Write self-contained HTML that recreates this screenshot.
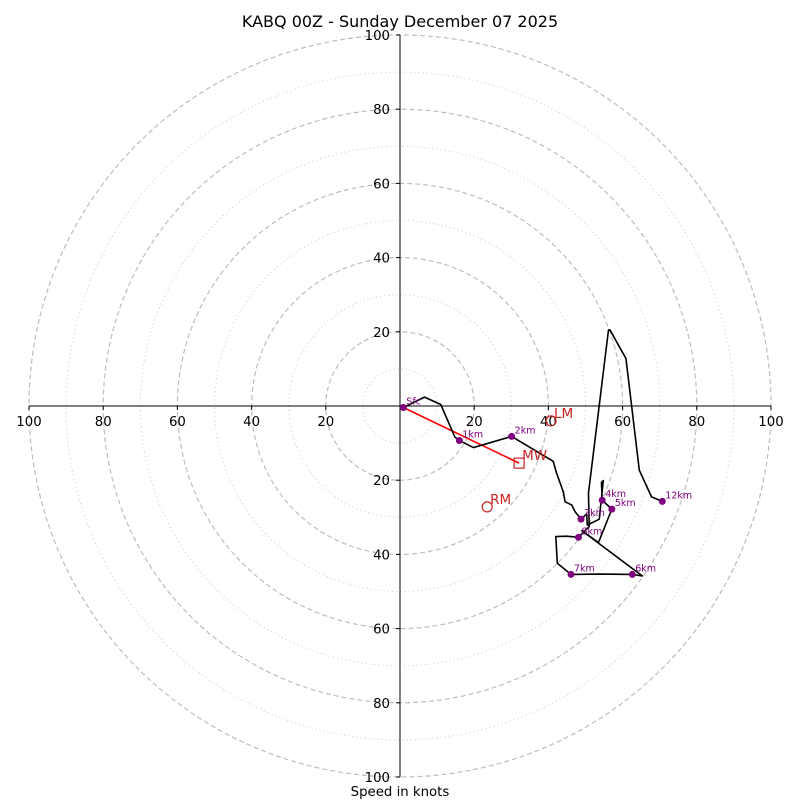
<!DOCTYPE html>
<html><head><meta charset="utf-8"><style>
body{margin:0;background:#fff;}
svg{display:block;font-family:"DejaVu Sans","Liberation Sans",sans-serif;}
</style></head><body>
<svg id="chart" width="800" height="800" viewBox="0 0 800 800">
<text x="400" y="27" font-size="16" text-anchor="middle">KABQ 00Z - Sunday December 07 2025</text>
<text x="400" y="796" font-size="13.3" text-anchor="middle">Speed in knots</text>
<g id="grid"></g><g id="axes"></g><g id="marks"></g>
</svg>
<script>
const ringValues=[10,20,30,40,50,60,70,80,90,100];
const tickValues=[20,40,60,80,100];
const pathU=[0.9,6.6,11.0,14.8,16.0,19.8,30.1,41.3,42.2,44.0,44.5,46.3,47.2,48.8,50.3,50.5,53.7,54.8,54.3,54.5,57.1,53.5,49.0,65.3,62.6,54.1,46.1,42.4,42.0,44.9,48.1,51.0,50.8,56.2,56.6,60.9,64.5,67.8,70.7];
const pathV=[-0.4,2.4,0.4,-8.4,-9.3,-11.2,-8.2,-14.9,-18.1,-23.1,-25.8,-26.7,-28.5,-30.5,-29.1,-32.1,-30.5,-20.1,-20.6,-25.4,-27.8,-36.8,-33.6,-45.8,-45.4,-45.3,-45.4,-42.4,-35.2,-35.1,-35.4,-32.5,-23.5,20.5,20.5,12.8,-17.3,-24.5,-25.7];
const levelLabels=["Sfc","1km","2km","3km","4km","5km","6km","7km","8km","12km"];
const levelU=[0.9,16.0,30.1,48.8,54.5,57.1,62.6,46.1,48.1,70.7];
const levelV=[-0.4,-9.3,-8.2,-30.5,-25.4,-27.8,-45.4,-45.4,-35.4,-25.7];
const motionLabels=["LM","MW","RM"];
const motionU=[40.7,32.1,23.5];
const motionV=[-4.0,-15.4,-27.2];

const cx=400,cy=406,k=3.71;
const X=u=>cx+u*k, Y=v=>cy-v*k;
const NS="http://www.w3.org/2000/svg";
function mk(tag,attrs,parent,text){const e=document.createElementNS(NS,tag);for(const a in attrs)e.setAttribute(a,attrs[a]);if(text!==undefined)e.textContent=text;parent.appendChild(e);return e;}
const grid=document.getElementById('grid'),axes=document.getElementById('axes'),marks=document.getElementById('marks');
ringValues.forEach(r=>{
 const c=mk('circle',{cx:cx,cy:cy,r:r*k,fill:'none',stroke:r%20===0?'#bdbdbd':'#d0d0d0','stroke-width':r%20===0?1.2:1,'stroke-dasharray':r%20===0?'5,3':'1.2,3'},grid);
 
 
});
let l=mk('line',{x1:X(-100),y1:cy,x2:X(100),y2:cy,stroke:'#000','stroke-width':1},axes);


l=mk('line',{x1:cx,y1:Y(100),x2:cx,y2:Y(-100),stroke:'#000','stroke-width':1},axes);


tickValues.forEach(t=>{
 [-1,1].forEach(s=>{
  mk('line',{x1:X(s*t),y1:cy,x2:X(s*t),y2:cy+4,stroke:'#000'},axes);
  let tx=mk('text',{x:X(s*t),y:cy+20,'font-size':13.3,'text-anchor':'middle'},axes,String(t));
  
  
  mk('line',{x1:cx-4,y1:Y(s*t),x2:cx,y2:Y(s*t),stroke:'#000'},axes);
  let ty=mk('text',{x:cx-10,y:Y(s*t)+5,'font-size':13.3,'text-anchor':'end'},axes,String(t));
  
  
 });
});
let ml=mk('line',{x1:X(pathU[0]),y1:Y(pathV[0]),x2:X(motionU[1]),y2:Y(motionV[1]),stroke:'#ff0000','stroke-width':1.6},marks);


const pts=pathU.map((u,i)=>X(u)+','+Y(pathV[i])).join(' ');
const pl=mk('polyline',{points:pts,fill:'none',stroke:'#000','stroke-width':1.6,'stroke-linejoin':'round'},marks);


levelLabels.forEach((lab,i)=>{
 const d=mk('circle',{cx:X(levelU[i]),cy:Y(levelV[i]),r:3.5,fill:'#800080'},marks);
 
 
 const t=mk('text',{x:X(levelU[i])+3,y:Y(levelV[i])-3,'font-size':9.5,fill:'#800080'},marks,lab);
 
 
});
motionLabels.forEach((lab,i)=>{
 const x=X(motionU[i]),y=Y(motionV[i]);
 let m;
 if(lab==='MW') m=mk('rect',{x:x-5,y:y-5,width:10,height:10,fill:'none',stroke:'#cc2222','stroke-width':1.2},marks);
 else m=mk('circle',{cx:x,cy:y,r:5,fill:'none',stroke:'#cc2222','stroke-width':1.2},marks);
 
 
 const t=mk('text',{x:x+3,y:y-3,'font-size':13.5,fill:'#cc2222'},marks,lab);
 
 
});
</script>
</body></html>
